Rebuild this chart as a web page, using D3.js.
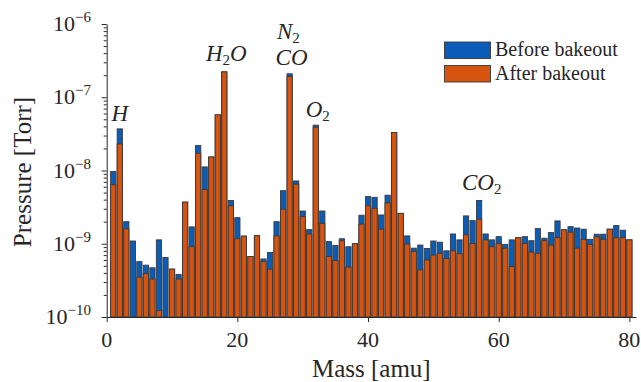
<!DOCTYPE html>
<html><head><meta charset="utf-8">
<script src="https://cdn.jsdelivr.net/npm/d3@7"></script>
<style>
html,body{margin:0;padding:0;background:#fff;}
svg{display:block;}
</style></head>
<body>
<svg id="chart" width="641" height="382"></svg>
<script>
const masses = [1,2,3,4,5,6,7,8,9,10,11,12,13,14,15,16,17,18,19,20,
  21,22,23,24,25,26,27,28,29,30,31,32,33,34,35,36,37,38,39,40,
  41,42,43,44,45,46,47,48,49,50,51,52,53,54,55,56,57,58,59,60,
  61,62,63,64,65,66,67,68,69,70,71,72,73,74,75,76,77,78,79,80];
const before = [9.7e-9,3.7e-8,2.0e-9,1.09e-9,5.7e-10,5.1e-10,4.7e-10,1.13e-9,6.5e-10,4.5e-10,
  3.8e-10,3.7e-9,1.7e-9,2.19e-8,1.12e-8,1.53e-8,5.75e-8,2.22e-7,3.9e-9,2.27e-9,
  1.27e-9,6.7e-10,1.29e-9,6.2e-10,7.6e-10,2.0e-9,5.3e-9,2.09e-7,7.2e-9,2.8e-9,
  1.56e-9,4.16e-8,2.8e-9,1.07e-9,9.5e-10,1.17e-9,9.1e-10,1.0e-9,2.45e-9,4.4e-9,
  4.3e-9,2.47e-9,4.6e-9,3.3e-8,2.6e-9,1.28e-9,8.7e-10,9.6e-10,8.6e-10,1.09e-9,
  1.05e-9,8.0e-10,1.36e-9,1.13e-9,2.4e-9,2.07e-9,3.9e-9,1.36e-9,1.13e-9,1.25e-9,
  9.8e-10,1.13e-9,1.21e-9,1.25e-9,1.1e-9,1.61e-9,1.19e-9,1.42e-9,2.05e-9,1.55e-9,
  1.71e-9,1.64e-9,1.58e-9,1.15e-9,1.35e-9,1.35e-9,1.58e-9,1.77e-9,1.53e-9,1.13e-9];
const after = [6.4e-9,2.3e-8,1.6e-9,null,3.5e-10,3.9e-10,3.3e-10,1.22e-10,null,4.5e-10,
  3.3e-10,3.7e-9,9.1e-10,1.72e-8,5.5e-9,1.53e-8,5.75e-8,2.22e-7,3.3e-9,1.17e-9,
  1.27e-9,6.7e-10,1.29e-9,5.7e-10,4.5e-10,1.28e-9,2.96e-9,1.92e-7,6.5e-9,2.35e-9,
  1.36e-9,3.9e-8,1.9e-9,6.7e-10,5.9e-10,1.1e-9,4.8e-10,1.0e-9,1.85e-9,3.3e-9,
  3.05e-9,1.58e-9,3.6e-9,3.3e-8,2.6e-9,9.9e-10,7.9e-10,4.4e-10,6.0e-10,7.0e-10,
  7.4e-10,6.3e-10,8.0e-10,7.3e-10,1.32e-9,1.01e-9,2.16e-9,1.13e-9,9.1e-10,1.01e-9,
  8.7e-10,4.9e-10,1.21e-9,1.01e-9,7.7e-10,7.4e-10,1.1e-9,9.6e-10,1.21e-9,1.55e-9,
  1.44e-9,8.7e-10,1.15e-9,9.8e-10,1.24e-9,1.15e-9,1.58e-9,1.21e-9,1.21e-9,1.13e-9];
const seriesNames = ["Before bakeout","After bakeout"];
const seriesColors = ["#0b5cb6","#d65310"];
const xTicks = [0,20,40,60,80];
const yDecades = [-10,-9,-8,-7,-6];
const annotations = [
  {mass:2.0, value:4.7e-8, parts:[["H",""]]},
  {mass:18.3, value:3.1e-7, parts:[["H",""],["2","sub"],["O",""]]},
  {mass:27.8, value:6.2e-7, parts:[["N",""],["2","sub"]]},
  {mass:28.3, value:2.75e-7, parts:[["CO",""]]},
  {mass:32.3, value:5.4e-8, parts:[["O",""],["2","sub"]]},
  {mass:57.4, value:5.4e-9, parts:[["CO",""],["2","sub"]]}
];

// pick an installed serif face
function pickFont(cands){
  const c = document.createElement("canvas").getContext("2d");
  const s = "Pressure [Torr] Mass 0123456789 WMiil";
  for (const f of cands){
    let ok = false;
    for (const base of ["monospace","sans-serif"]){
      c.font = "40px " + base; const w0 = c.measureText(s).width;
      c.font = "40px '" + f + "', " + base; const w1 = c.measureText(s).width;
      if (Math.abs(w1-w0) > 0.5) ok = true;
    }
    if (ok) return "'" + f + "', serif";
  }
  return "serif";
}
const FONT = pickFont(["Liberation Serif","Tinos","DejaVu Serif","Noto Serif","Times New Roman","Times","FreeSerif"]);

const svg = d3.select("#chart").attr("font-family", FONT);
const x = d3.scaleLinear().domain([0,81]).range([106.7,635.9]);
const y = d3.scaleLog().domain([1e-10,1e-6]).range([317,24]);
const bw = (x(0.8)-x(0));
const axisColor = "#262626";

// bars
[before, after].forEach((vals, si) => {
  svg.append("g").selectAll("rect")
    .data(masses.map((m,i)=>({m, v: vals[i]})).filter(d => d.v != null))
    .join("rect")
    .attr("x", d => x(d.m) - bw/2)
    .attr("width", bw)
    .attr("y", d => y(d.v))
    .attr("height", d => y(1e-10) - y(d.v))
    .attr("fill", seriesColors[si])
    .attr("stroke", "#3a3a3a")
    .attr("stroke-width", 0.9);
});

// y axis
const minor = [];
yDecades.slice(0,-1).forEach(e => { for (let k=2;k<=9;k++) minor.push(k*Math.pow(10,e)); });
svg.append("g").attr("transform","translate(106.7,0)")
  .call(d3.axisLeft(y).tickValues(yDecades.map(e=>Math.pow(10,e))).tickSize(5).tickSizeOuter(0).tickFormat(""));
svg.append("g").attr("transform","translate(106.7,0)")
  .call(d3.axisLeft(y).tickValues(minor).tickSize(3).tickSizeOuter(0).tickFormat(""))
  .select(".domain").remove();
// x axis
svg.append("g").attr("transform","translate(0,317)")
  .call(d3.axisBottom(x).tickValues(xTicks).tickSize(5).tickSizeOuter(0).tickFormat(""));
svg.selectAll(".domain, .tick line").attr("stroke", axisColor).attr("stroke-width",1);

function txt(sel){ return sel.append("text").attr("font-family", FONT).attr("fill", axisColor); }

// x tick labels
xTicks.forEach(d => {
  txt(svg).attr("x", x(d)).attr("y", 347)
    .attr("text-anchor","middle").attr("font-size",22).text(d);
});

// y tick labels
yDecades.forEach(e => {
  const t = txt(svg).attr("x", 91).attr("y", y(Math.pow(10,e)) + 7)
    .attr("text-anchor","end").attr("font-size",22);
  t.append("tspan").text("10");
  t.append("tspan").attr("font-size",15).attr("dy",-9).text("\u2212" + Math.abs(e));
});

// axis titles
txt(svg).attr("x", (106.7+635.9)/2).attr("y", 377)
  .attr("text-anchor","middle").attr("font-size",25).text("Mass [amu]");
txt(svg).attr("transform","translate(31,172) rotate(-90)")
  .attr("text-anchor","middle").attr("font-size",25).text("Pressure [Torr]");

// annotations
annotations.forEach(a => {
  const t = txt(svg).attr("x", x(a.mass)).attr("y", y(a.value))
    .attr("text-anchor","middle").attr("font-size",23).attr("font-style","italic");
  let shifted = false;
  a.parts.forEach(([s,kind]) => {
    const ts = t.append("tspan").text(s);
    if (kind === "sub") { ts.attr("font-size",15).attr("font-style","normal").attr("dy",4); shifted = true; }
    else if (shifted) { ts.attr("dy",-4); shifted = false; }
  });
});

// legend
seriesNames.forEach((n,i) => {
  svg.append("rect").attr("x",444.5).attr("y",42 + i*23.5).attr("width",46).attr("height",16.5)
    .attr("fill",seriesColors[i]).attr("stroke","#3a3a3a").attr("stroke-width",0.9);
  txt(svg).attr("x",495).attr("y",56 + i*23.5).attr("font-size",20).text(n);
});
</script>
</body></html>
